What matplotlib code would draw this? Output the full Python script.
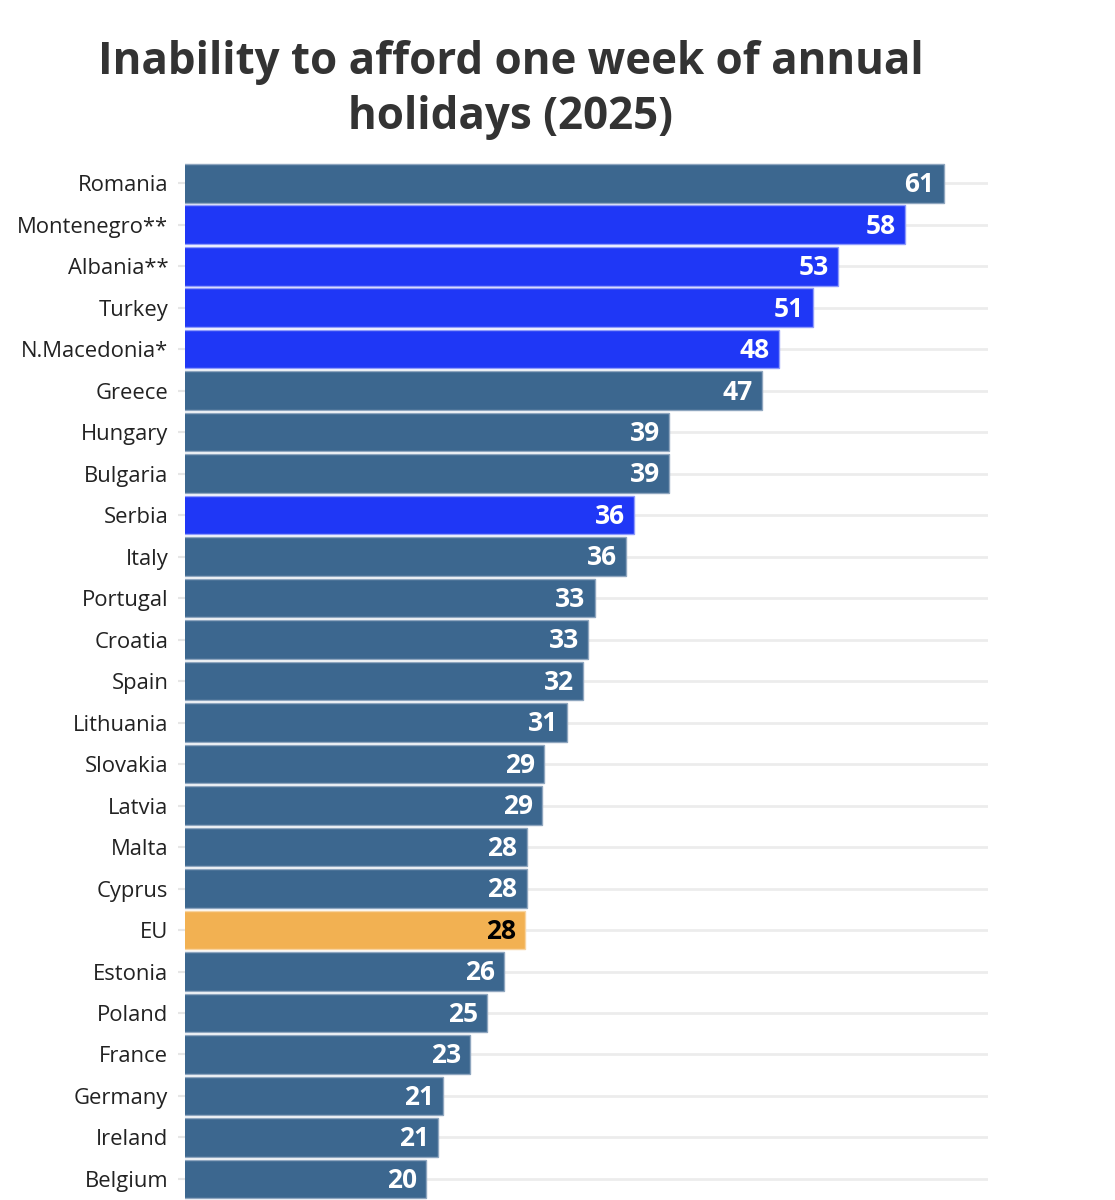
import matplotlib
matplotlib.use("Agg")
import matplotlib.pyplot as plt

countries = ["Romania", "Montenegro**", "Albania**", "Turkey", "N.Macedonia*", "Greece",
             "Hungary", "Bulgaria", "Serbia", "Italy", "Portugal", "Croatia", "Spain",
             "Lithuania", "Slovakia", "Latvia", "Malta", "Cyprus", "EU", "Estonia",
             "Poland", "France", "Germany", "Ireland", "Belgium"]
values = [61.0, 57.9, 52.6, 50.6, 47.9, 46.6, 39.2, 39.2, 36.4, 35.8, 33.3, 32.8, 32.4,
          31.1, 29.3, 29.1, 27.9, 27.9, 27.8, 26.1, 24.8, 23.4, 21.3, 20.9, 19.9]
groups = ["eu", "cand", "cand", "cand", "cand", "eu", "eu", "eu", "cand", "eu", "eu", "eu",
          "eu", "eu", "eu", "eu", "eu", "eu", "avg", "eu", "eu", "eu", "eu", "eu", "eu"]
title = "Inability to afford one week of annual\nholidays (2025)"

palette = {"eu": "#3c678f", "cand": "#1f37f6", "avg": "#f2b152"}
edge = {"eu": "#8fa6bf", "cand": "#8f9bfb", "avg": "#f8d4a0"}
text_col = {"eu": "white", "cand": "white", "avg": "black"}

plt.rcParams["font.family"] = ["Open Sans", "DejaVu Sans"]

W, H = 1115, 1200
fig = plt.figure(figsize=(W / 100, H / 100), dpi=100)
left_px, right_px, top_px, bot_px = 185, 988, 162.5, 1199.7
ax = fig.add_axes([left_px / W, 1 - bot_px / H, (right_px - left_px) / W, (bot_px - top_px) / H])

n = len(countries)
ypos = list(range(n))
for y, v, g in zip(ypos, values, groups):
    ax.barh(y, v, height=0.93, color=palette[g], edgecolor=edge[g], linewidth=1.0, zorder=3)
    ax.annotate(f"{v:.0f}", xy=(v, y), xytext=(-6.5, 1.2), textcoords="offset points",
                ha="right", va="center_baseline", color=text_col[g], fontsize=19,
                fontweight="bold", zorder=4)

# zero of the scale sits ~10px left of the plot edge
scale = 12.6
ax.set_xlim((left_px - 175) / scale, (right_px - 175) / scale)
ax.set_ylim(n - 0.5, -0.5)

for y in ypos:
    ax.axhline(y, color="#ececec", linewidth=2, zorder=1)

ax.set_yticks(ypos)
ax.set_yticklabels(countries, fontsize=15.8, color="#222222")
ax.tick_params(axis="y", length=5, width=1.5, color="#e6e6e6", pad=7)
ax.set_xticks([])
for s in ax.spines.values():
    s.set_visible(False)

fig.text(511 / W, 1 - 40 / H, title, ha="center", va="top", fontsize=31.6,
         fontweight="bold", color="#333333", linespacing=1.3)

fig.savefig("out.png", dpi=100, facecolor="white")
